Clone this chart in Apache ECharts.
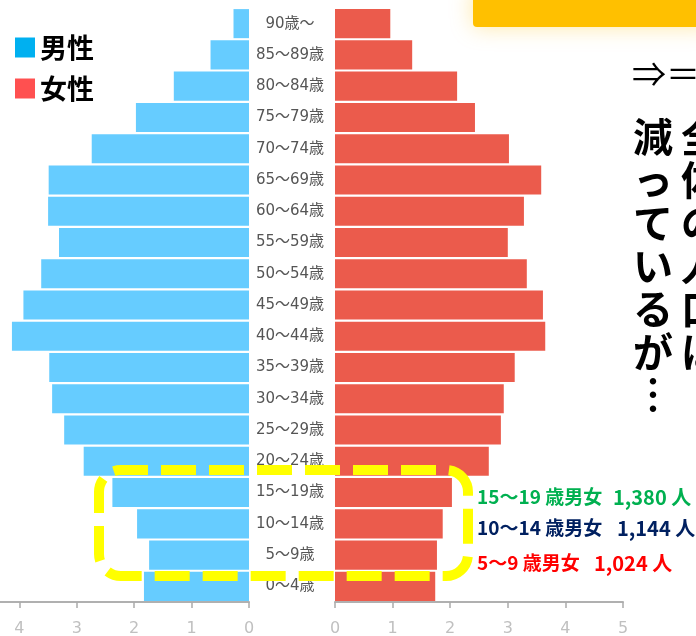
<!DOCTYPE html>
<html>
<head>
<meta charset="UTF-8">
<title>人口ピラミッド</title>
<script src="https://cdn.jsdelivr.net/npm/echarts@6/dist/echarts.min.js"></script>
<style>
  html, body { margin: 0; padding: 0; background: #fff; }
  #main { width: 696px; height: 636px; }
</style>
</head>
<body>
<div id="main"></div>
<script>
// 年齢階級（下から上へ）
var ages = ['0～4歳', '5～9歳', '10～14歳', '15～19歳', '20～24歳', '25～29歳', '30～34歳',
    '35～39歳', '40～44歳', '45～49歳', '50～54歳', '55～59歳', '60～64歳', '65～69歳',
    '70～74歳', '75～79歳', '80～84歳', '85～89歳', '90歳～'];
var male = [1.83, 1.74, 1.95, 2.38, 2.88, 3.22, 3.43, 3.48, 4.13, 3.93, 3.62, 3.31, 3.50, 3.49,
    2.74, 1.97, 1.31, 0.67, 0.27];
var female = [1.74, 1.77, 1.87, 2.03, 2.67, 2.88, 2.93, 3.12, 3.65, 3.61, 3.33, 3.00, 3.28, 3.58,
    3.02, 2.43, 2.12, 1.34, 0.96];

// 注記
var noteLabels = ['15～19 歳男女', '10～14 歳男女', '5～9 歳男女'];
var noteCounts = ['1,380 人', '1,144 人', '1,024 人'];
var noteColors = ['#00B050', '#002060', '#FF0000'];

var colMain = ['減', 'っ', 'て', 'い', 'る', 'が', '︙'];
var colCut = ['全', '体', 'の', '人', '口', 'は'];

var jp = '"Noto Sans CJK JP", sans-serif';

var myChart = echarts.init(document.getElementById('main'));

var axisCommon = {
    type: 'value',
    min: 0,
    max: 5,
    interval: 1,
    splitLine: {show: false},
    axisLine: {show: true, lineStyle: {color: '#b0b0b0', width: 2}},
    axisTick: {show: true, length: 6, lineStyle: {color: '#aaa', width: 1.5}},
    axisLabel: {color: '#c0c0c0', fontSize: 16, margin: 19, fontFamily: 'DejaVu Sans'}
};

var graphics = [
    // 上部の黄色い帯
    {
        type: 'rect', z: 50,
        shape: {x: 473, y: -12, width: 240, height: 39, r: 4},
        style: {fill: '#FFC000', shadowBlur: 22, shadowColor: 'rgba(255,190,0,0.35)'}
    },
    {
        type: 'text', z: 60, x: 632, y: 74,
        style: {text: '⇒＝', fill: '#000', font: '34px ' + jp, textVerticalAlign: 'middle', verticalAlign: 'middle'}
    },
    {
        type: 'text', z: 60, x: 653, y: 115,
        style: {text: colMain.join('\n'), fill: '#000', font: 'bold 40px ' + jp, lineHeight: 43,
            textAlign: 'center', align: 'center'}
    },
    {
        type: 'text', z: 60, x: 701, y: 115,
        style: {text: colCut.join('\n'), fill: '#000', font: 'bold 40px ' + jp, lineHeight: 43,
            textAlign: 'center', align: 'center'}
    },
    // 黄色い点線の枠
    {
        type: 'rect', z: 100,
        shape: {x: 99, y: 470, width: 369, height: 106, r: 22},
        style: {fill: null, stroke: '#FFFF00', lineWidth: 10, lineDash: [35, 13], lineDashOffset: 8}
    }
];

var noteY = [497, 528, 563];
var countX = [613, 617, 594];
noteLabels.forEach(function (t, i) {
    graphics.push({
        type: 'text', z: 60, x: 477, y: noteY[i],
        style: {text: t, fill: noteColors[i], font: 'bold 19px ' + jp,
            textVerticalAlign: 'middle', verticalAlign: 'middle'}
    });
    graphics.push({
        type: 'text', z: 60, x: countX[i], y: noteY[i],
        style: {text: noteCounts[i], fill: noteColors[i], font: 'bold 20px ' + jp,
            textVerticalAlign: 'middle', verticalAlign: 'middle'}
    });
});

var option = {
    backgroundColor: '#ffffff',
    animation: false,
    legend: {
        orient: 'vertical',
        left: 10,
        top: 29,
        itemWidth: 20,
        itemHeight: 20,
        itemGap: 14,
        icon: 'rect',
        textStyle: {fontSize: 27, fontWeight: 'bold', color: '#000', fontFamily: jp},
        data: [
            {name: '男性', itemStyle: {color: '#00B0F0'}},
            {name: '女性', itemStyle: {color: '#FF5050'}}
        ]
    },
    grid: [
        {left: -38, top: 8, width: 287, bottom: 34, outerBoundsMode: 'none', containLabel: false},
        {left: 335, top: 8, width: 288, bottom: 34, outerBoundsMode: 'none', containLabel: false}
    ],
    xAxis: [
        Object.assign({gridIndex: 0, inverse: true}, axisCommon),
        Object.assign({gridIndex: 1}, axisCommon)
    ],
    yAxis: [
        {
            gridIndex: 0, type: 'category', data: ages,
            axisLine: {show: false}, axisTick: {show: false}, axisLabel: {show: false}
        },
        {
            gridIndex: 1, type: 'category', data: ages, position: 'left',
            axisLine: {show: false}, axisTick: {show: false},
            axisLabel: {align: 'center', margin: 45, color: '#555', fontSize: 15,
                fontFamily: '"DejaVu Sans", "Noto Sans CJK JP"'}
        }
    ],
    series: [
        {
            name: '男性', type: 'bar', xAxisIndex: 0, yAxisIndex: 0,
            data: male, barCategoryGap: '7%',
            itemStyle: {color: '#66CCFF'}
        },
        {
            name: '女性', type: 'bar', xAxisIndex: 1, yAxisIndex: 1,
            data: female, barCategoryGap: '7%',
            itemStyle: {color: '#EB5B4C'}
        }
    ],
    graphic: graphics
};

myChart.setOption(option);
</script>
</body>
</html>
